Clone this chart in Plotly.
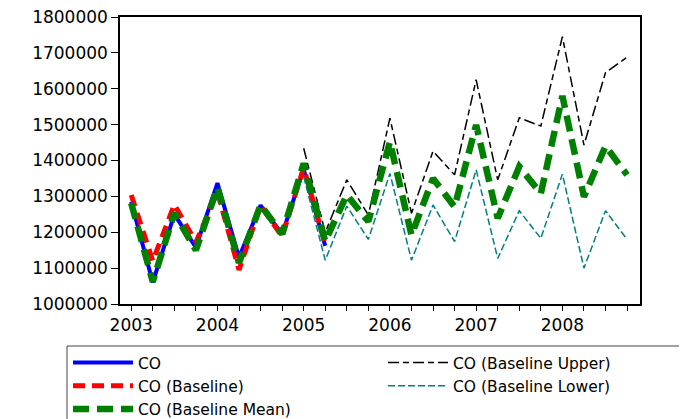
import plotly.graph_objects as go

# Quarterly positions 2003Q1 .. 2008Q4 (decimal years)
quarters = [2003.00, 2003.25, 2003.50, 2003.75,
            2004.00, 2004.25, 2004.50, 2004.75,
            2005.00, 2005.25, 2005.50, 2005.75,
            2006.00, 2006.25, 2006.50, 2006.75,
            2007.00, 2007.25, 2007.50, 2007.75,
            2008.00, 2008.25, 2008.50, 2008.75]

# Actual CO (2003Q1 - 2005Q2)
co_actual = [1285000, 1060000, 1250000, 1158000, 1337000,
             1130000, 1275000, 1195000, 1375000, 1162000]

# Baseline (2003Q1 - 2005Q2)
co_baseline = [1304000, 1120000, 1277000, 1172000, 1312000,
               1095000, 1275000, 1188000, 1380000, 1168000]

# Baseline mean (2003Q1 - 2008Q4)
co_mean = [1281000, 1062000, 1253000, 1150000, 1325000, 1115000,
           1276000, 1195000, 1392000, 1175000, 1304000, 1230000,
           1452000, 1192000, 1350000, 1271000, 1499000, 1239000,
           1383000, 1308000, 1580000, 1299000, 1440000, 1360000]

# Upper / lower bounds (2005Q1 - 2008Q4)
co_upper = [1434000, 1200000, 1346000, 1248000, 1518000, 1253000,
            1426000, 1360000, 1625000, 1346000, 1519000, 1496000,
            1745000, 1443000, 1645000, 1688000]
co_lower = [1355000, 1122000, 1273000, 1180000, 1364000, 1122000,
            1276000, 1174000, 1374000, 1127000, 1260000, 1183000,
            1362000, 1100000, 1260000, 1180000]

y_ticks = [1000000, 1100000, 1200000, 1300000, 1400000,
           1500000, 1600000, 1700000, 1800000]
x_ticks = [2003, 2004, 2005, 2006, 2007, 2008]
x_ticklabels = ["2003", "2004", "2005", "2006", "2007", "2008"]

n_act = len(co_actual)
n_fc = len(co_upper)

fig = go.Figure()

fig.add_trace(go.Scatter(
    x=quarters[:n_act], y=co_actual, mode="lines", name="CO",
    line=dict(color="#0000FF", width=4), legendrank=1))
fig.add_trace(go.Scatter(
    x=quarters[:n_act], y=co_baseline, mode="lines", name="CO (Baseline)",
    line=dict(color="#FF0000", width=5, dash="12px,7px"), legendrank=3))
fig.add_trace(go.Scatter(
    x=quarters[-n_fc:], y=co_upper, mode="lines", name="CO (Baseline Upper)",
    line=dict(color="#000000", width=1.5, dash="11px,4px,6px,4px"), legendrank=2))
fig.add_trace(go.Scatter(
    x=quarters[-n_fc:], y=co_lower, mode="lines", name="CO (Baseline Lower)",
    line=dict(color="#008080", width=1.5, dash="7px,3px"), legendrank=4))
fig.add_trace(go.Scatter(
    x=quarters, y=co_mean, mode="lines", name="CO (Baseline Mean)",
    line=dict(color="#008000", width=6.5, dash="16px,8px"), legendrank=5))

font_family = "DejaVu Sans"

# The page body adds an 8px offset; margins compensate so the plot frame
# lands at x 120-640, y 17-304 on screen.
OFF = 8
PL, PR, PT, PB = 120, 640, 17, 304
PW, PH = PR - PL, PB - PT

fig.update_layout(
    width=687, height=419,
    margin=dict(l=PL - OFF, r=687 - (PR - OFF), t=PT - OFF,
                b=419 - (PB - OFF), autoexpand=False),
    paper_bgcolor="white", plot_bgcolor="white",
    font=dict(family=font_family, size=17, color="black"),
    xaxis=dict(
        range=[2002.87, 2008.9],
        tickmode="array", tickvals=x_ticks, ticktext=x_ticklabels,
        ticks="outside", ticklen=5, tickwidth=1, tickcolor="black",
        minor=dict(dtick=0.25, tick0=2003, ticks="outside", ticklen=5,
                   tickwidth=1, tickcolor="black", showgrid=False),
        showgrid=False, zeroline=False,
        showline=True, linecolor="black", linewidth=1.5, mirror=True,
        tickfont=dict(family=font_family, size=17),
        ticklabeloverflow="allow",
    ),
    yaxis=dict(
        range=[1000000, 1800000],
        tickmode="array", tickvals=y_ticks,
        ticktext=[str(v) for v in y_ticks],
        ticks="outside", ticklen=7, tickwidth=1, tickcolor="black",
        showgrid=False, zeroline=False,
        showline=True, linecolor="black", linewidth=1.5, mirror=True,
        tickfont=dict(family=font_family, size=17),
        ticklabeloverflow="allow",
    ),
    showlegend=True,
    legend=dict(
        orientation="h",
        x=(68 - PL) / PW, xanchor="left",
        y=-(346 - PB) / PH, yanchor="top",
        entrywidth=240, entrywidthmode="pixels",
        itemwidth=60,
        bgcolor="rgba(0,0,0,0)", borderwidth=0,
        font=dict(family=font_family, size=15.5, color="black"),
        tracegroupgap=0,
    ),
    shapes=[dict(
        type="rect", xref="paper", yref="paper",
        x0=(67 - PL) / PW, x1=(720 - PL) / PW,
        y0=-(450 - PB) / PH, y1=-(346 - PB) / PH,
        line=dict(color="#444444", width=1), fillcolor="rgba(0,0,0,0)",
        layer="below",
    )],
)

fig.write_html("out.html")
